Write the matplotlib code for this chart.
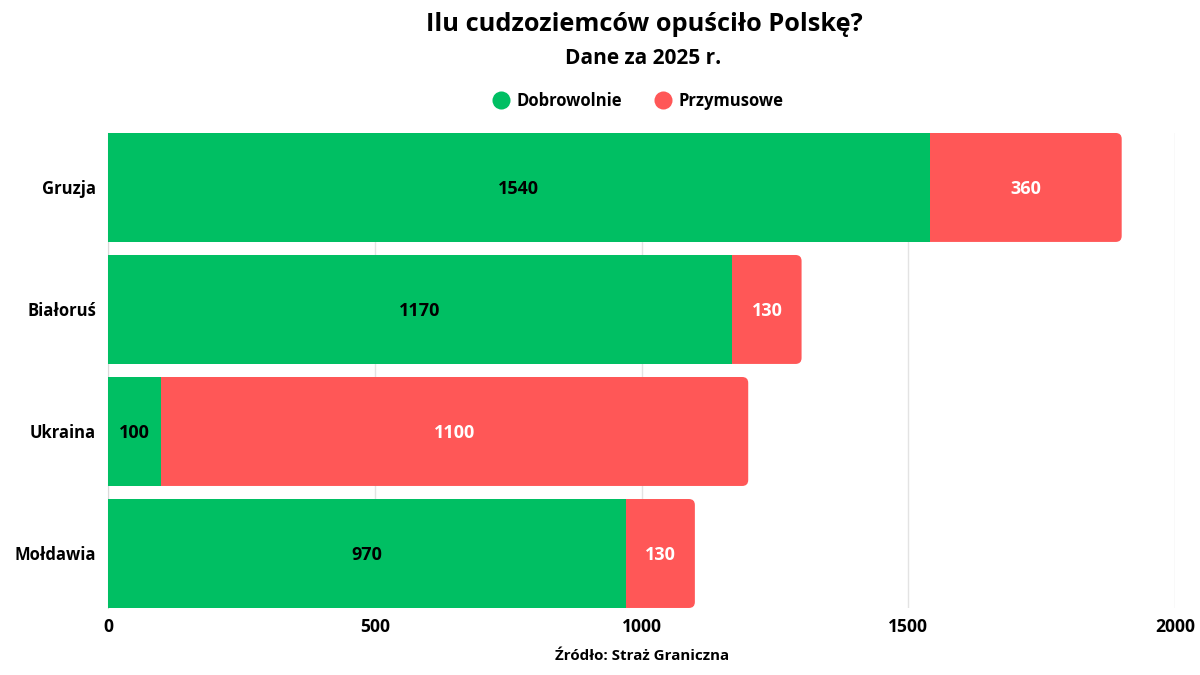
import matplotlib.pyplot as plt
from matplotlib.patches import FancyBboxPatch
from matplotlib.lines import Line2D

# data
countries = ["Gruzja", "Białoruś", "Ukraina", "Mołdawia"]
voluntary = [1540, 1170, 100, 970]
forced = [360, 130, 1100, 130]
series_names = ["Dobrowolnie", "Przymusowe"]
x_ticks = [0, 500, 1000, 1500, 2000]

green = "#00BF63"
red = "#FF5757"

plt.rcParams["font.family"] = ["Open Sans", "DejaVu Sans"]
plt.rcParams["font.weight"] = "bold"

fig = plt.figure(figsize=(12, 6.75), dpi=100)
ax = fig.add_axes([0.09, 0.0993, 0.8892, 0.7037])

bar_h = 0.893
n = len(countries)
ypos = list(range(n))

ax.set_xlim(0, 2000)
ax.set_ylim(n - 1 + bar_h / 2, -bar_h / 2)

# radius of the rounded right end, in pixels -> data units
fig.canvas.draw()
bbox = ax.get_window_extent()
px_x = 2000 / bbox.width
px_y = (n - 1 + bar_h) / bbox.height
radius_px = 6

for y, g, r in zip(ypos, voluntary, forced):
    total = g + r
    patch = FancyBboxPatch((0, y - bar_h / 2), total, bar_h,
                           boxstyle="round,pad=0,rounding_size=%f" % (radius_px * px_x),
                           mutation_aspect=px_y / px_x,
                           facecolor=red, edgecolor="none", zorder=2)
    ax.add_patch(patch)

ax.barh(ypos, voluntary, height=bar_h, color=green, zorder=3)

for y, g, r in zip(ypos, voluntary, forced):
    ax.text(g / 2, y + 0.01, str(g), ha="center", va="center", fontsize=13,
            fontweight="bold", color="black", zorder=4)
    ax.text(g + r / 2, y + 0.01, str(r), ha="center", va="center", fontsize=13,
            fontweight="bold", color="white", zorder=4)

ax.set_yticks(ypos)
ax.set_yticklabels(countries, fontsize=12, fontweight="bold")
ax.set_xticks(x_ticks)
ax.set_xticklabels([str(t) for t in x_ticks], fontsize=12.6, fontweight="bold")
ax.tick_params(length=0, pad=7)
ax.tick_params(axis="y", pad=8.5)

ax.grid(axis="x", color="#e3e3e3", linewidth=1, zorder=0)
ax.set_axisbelow(True)
for side in ["top", "right", "bottom"]:
    ax.spines[side].set_visible(False)
ax.spines["left"].set_color("#d9d9d9")

fig.text(0.537, 0.964, "Ilu cudzoziemców opuściło Polskę?", ha="center",
         va="center", fontsize=18.3, fontweight="bold")
fig.text(0.536, 0.913, "Dane za 2025 r.", ha="center", va="center",
         fontsize=15, fontweight="bold")

handles = [Line2D([], [], marker="o", linestyle="none", markersize=13,
                  markerfacecolor=c, markeredgecolor="none")
           for c in (green, red)]
fig.legend(handles, series_names, loc="center", bbox_to_anchor=(0.531, 0.85),
           ncol=2, frameon=False, prop={"size": 12, "weight": "bold"},
           handlelength=1.2, handletextpad=0.3, columnspacing=1.9)

fig.text(0.535, 0.028, "Źródło: Straż Graniczna", ha="center", va="center",
         fontsize=10.9, fontweight="bold")

fig.savefig("out.png", dpi=100, facecolor="white")
